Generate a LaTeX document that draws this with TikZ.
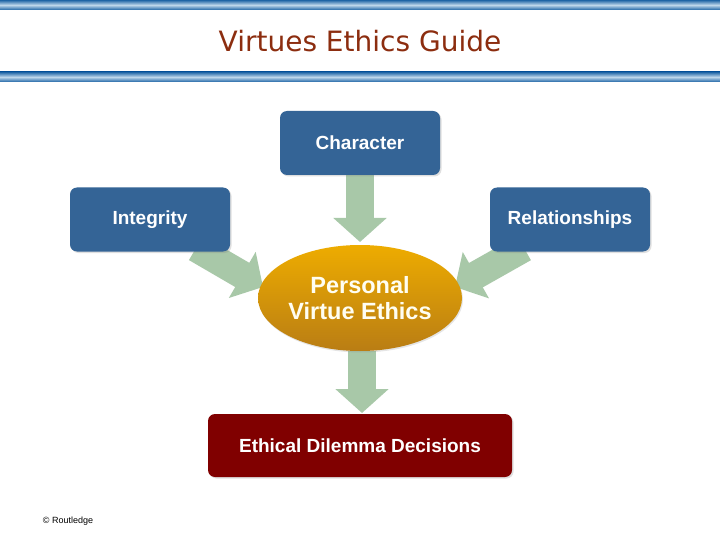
\documentclass[tikz,border=0pt]{standalone}
\usepackage{fontspec}
\setmainfont{Liberation Sans}
\newfontfamily\titlefont{DejaVu Sans}
\usetikzlibrary{arrows.meta,shapes.geometric,shadows}
\definecolor{boxblue}{RGB}{52,100,150}
\definecolor{darkred}{RGB}{128,0,0}
\definecolor{arrowgreen}{RGB}{168,200,168}
\definecolor{titlebrown}{RGB}{140,45,15}
\definecolor{barblue}{RGB}{30,100,165}
\definecolor{barlight}{RGB}{190,215,235}
\definecolor{ortop}{RGB}{238,172,0}
\definecolor{orbot}{RGB}{185,125,20}
\tikzset{
  box/.style={rounded corners=7pt, fill=boxblue, text=white, font=\bfseries\fontsize{19}{22}\selectfont, minimum width=160pt, minimum height=64pt, inner sep=0pt, drop shadow={opacity=0.25,shadow xshift=1.5pt,shadow yshift=-1.5pt}},
  bigarrow/.style={draw=arrowgreen, line width=28pt, -{Triangle[width=52pt,length=24pt]}, shorten >=0pt},
  bar/.style={top color=barblue, bottom color=barblue, middle color=barlight, draw=none}
}
\begin{document}
\begin{tikzpicture}[x=1pt,y=-1pt]
\useasboundingbox (0,0) rectangle (720,540);
\fill[white] (0,0) rectangle (720,540);
\shade[bar] (0,0) rectangle (720,10);
\shade[bar] (0,72) rectangle (720,82);
\node[text=titlebrown, font=\titlefont\fontsize{28}{32}\selectfont] (title) at (360,41) {Virtues Ethics Guide};
\coordinate (ca) at (360,175);
\coordinate (cb) at (360,242);
\coordinate (la) at (196,248);
\coordinate (lb) at (263,287);
\coordinate (ra) at (524,248);
\coordinate (rb) at (455,287);
\coordinate (ba) at (362,351);
\coordinate (bb) at (362,413);
\draw[bigarrow] (ca) -- (cb);
\draw[bigarrow] (la) -- (lb);
\draw[bigarrow] (ra) -- (rb);
\draw[bigarrow] (ba) -- (bb);
\node[box] (char) at (360,143) {Character};
\node[box] (int) at (150,219.5) {Integrity};
\node[box] (rel) at (570,219.5) {Relationships};
\node[ellipse, top color=ortop, bottom color=orbot, minimum width=204pt, minimum height=106pt, inner sep=0pt, text=white!95!yellow, align=center, font=\bfseries\fontsize{23.5}{26}\selectfont, drop shadow={opacity=0.2,shadow xshift=1pt,shadow yshift=-1.5pt}] (pve) at (360,298) {Personal\\Virtue Ethics};
\node[box, fill=darkred, minimum width=304pt, minimum height=63pt] (dec) at (360,445.5) {Ethical Dilemma Decisions};
\node[font=\fontsize{9}{10}\selectfont] (copy) at (68,521) {© Routledge};
\end{tikzpicture}
\end{document}
